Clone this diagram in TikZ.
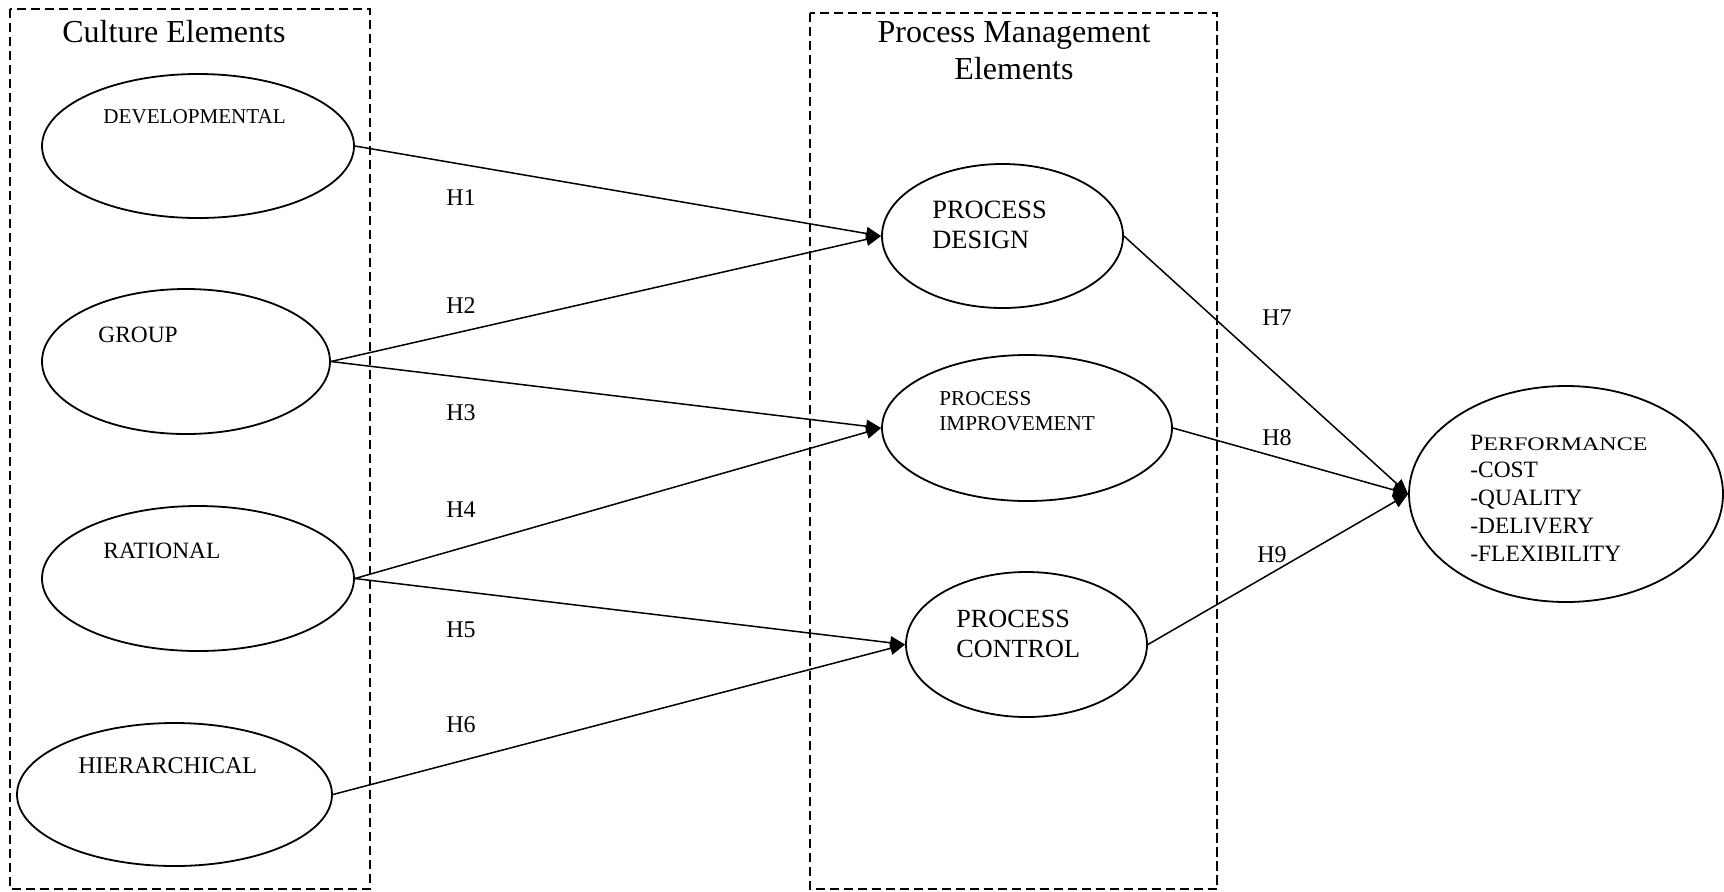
\documentclass[tikz,border=0pt]{standalone}
\usepackage{fontspec}
\usepackage{graphicx}
\setmainfont{Liberation Serif}
\usetikzlibrary{shapes.geometric,arrows.meta}
% left-aligned stack of lines whose baseline is the first line
\newcommand{\linesl}[1]{\begin{tabular}[t]{@{}l@{}}#1\end{tabular}}
% wide small capitals
\newcommand{\widesc}[1]{\scalebox{1.25}[1]{\fontsize{9.6}{13.9}\selectfont #1}}

\begin{document}
\begin{tikzpicture}[x=0.5pt,y=-0.5pt,
  frame/.style={draw,line width=1pt,dash pattern=on 4.7pt off 2.3pt},
  oval/.style={draw,ellipse,line width=0.9pt,inner sep=0pt},
  txt/.style={inner sep=0pt,anchor=base west},
  hyp/.style={txt,font=\fontsize{12}{14}\selectfont},
  link/.style={line width=0.75pt,-{Triangle[length=7.5pt,width=6.5pt]}}]
\useasboundingbox (0,0) rectangle (1724,891);

% dashed group frames
\draw[frame] (10,9) rectangle (370,889);
\draw[frame] (810,12.5) rectangle (1217,889);
\node[txt,font=\fontsize{16}{18}\selectfont] (cultitle) at (62,42) {Culture Elements};
\node[inner sep=0pt,anchor=base,font=\fontsize{16}{18}\selectfont] (pmtitleA) at (1014,42) {Process Management};
\node[inner sep=0pt,anchor=base,font=\fontsize{16}{18}\selectfont] (pmtitleB) at (1014,79) {Elements};

% culture ellipses
\node[oval,minimum width=156pt,minimum height=72pt] (dev) at (198,146) {};
\node[oval,minimum width=144pt,minimum height=72.5pt] (grp) at (186,361.5) {};
\node[oval,minimum width=156pt,minimum height=72.5pt] (rat) at (198,578.5) {};
\node[oval,minimum width=157.5pt,minimum height=71.5pt] (hier) at (174.5,794.5) {};
\node[txt,font=\fontsize{10.55}{12}\selectfont] (devtxt) at (103,123) {DEVELOPMENTAL};
\node[txt,font=\fontsize{11.7}{13}\selectfont] (grptxt) at (98,342) {GROUP};
\node[txt,font=\fontsize{11.7}{13}\selectfont] (rattxt) at (103,558) {RATIONAL};
\node[txt,font=\fontsize{12}{14}\selectfont] (hiertxt) at (78,773) {HIERARCHICAL};

% process management ellipses
\node[oval,minimum width=120.5pt,minimum height=72pt] (pd) at (1002.5,236) {};
\node[oval,minimum width=145pt,minimum height=73pt] (pi) at (1027,428) {};
\node[oval,minimum width=120.5pt,minimum height=72.5pt] (pc) at (1026.5,644.5) {};
\node[txt,font=\fontsize{13.2}{15}\selectfont] (pdtxt) at (932,218) {\linesl{PROCESS\\DESIGN}};
\node[txt,font=\fontsize{10.6}{12.5}\selectfont] (pitxt) at (939,405) {\linesl{PROCESS\\IMPROVEMENT}};
\node[txt,font=\fontsize{13.1}{15}\selectfont] (pctxt) at (956,627) {\linesl{PROCESS\\CONTROL}};

% performance ellipse
\node[oval,minimum width=157pt,minimum height=108pt] (perf) at (1566,494) {};
\node[txt,font=\fontsize{11.7}{13.9}\selectfont] (perftxt) at (1470,450)
  {\linesl{P\widesc{ERFORMANCE}\\-COST\\-QUALITY\\-DELIVERY\\-FLEXIBILITY}};

% hypothesised paths
\draw[link] (dev.east) -- (pd.west);
\draw[link] (grp.east) -- (pd.west);
\draw[link] (grp.east) -- (pi.west);
\draw[link] (rat.east) -- (pi.west);
\draw[link] (rat.east) -- (pc.west);
\draw[link] (hier.east) -- (pc.west);
\draw[link] (pd.east) -- (perf.west);
\draw[link] (pi.east) -- (perf.west);
\draw[link] (pc.east) -- (perf.west);

% path labels
\node[hyp] (h1) at (446,205) {H1};
\node[hyp] (h2) at (446,313) {H2};
\node[hyp] (h3) at (446,420) {H3};
\node[hyp] (h4) at (446,517) {H4};
\node[hyp] (h5) at (446,637) {H5};
\node[hyp] (h6) at (446,732) {H6};
\node[hyp] (h7) at (1262,325) {H7};
\node[hyp] (h8) at (1262,445) {H8};
\node[hyp] (h9) at (1257,562) {H9};
\end{tikzpicture}
\end{document}
